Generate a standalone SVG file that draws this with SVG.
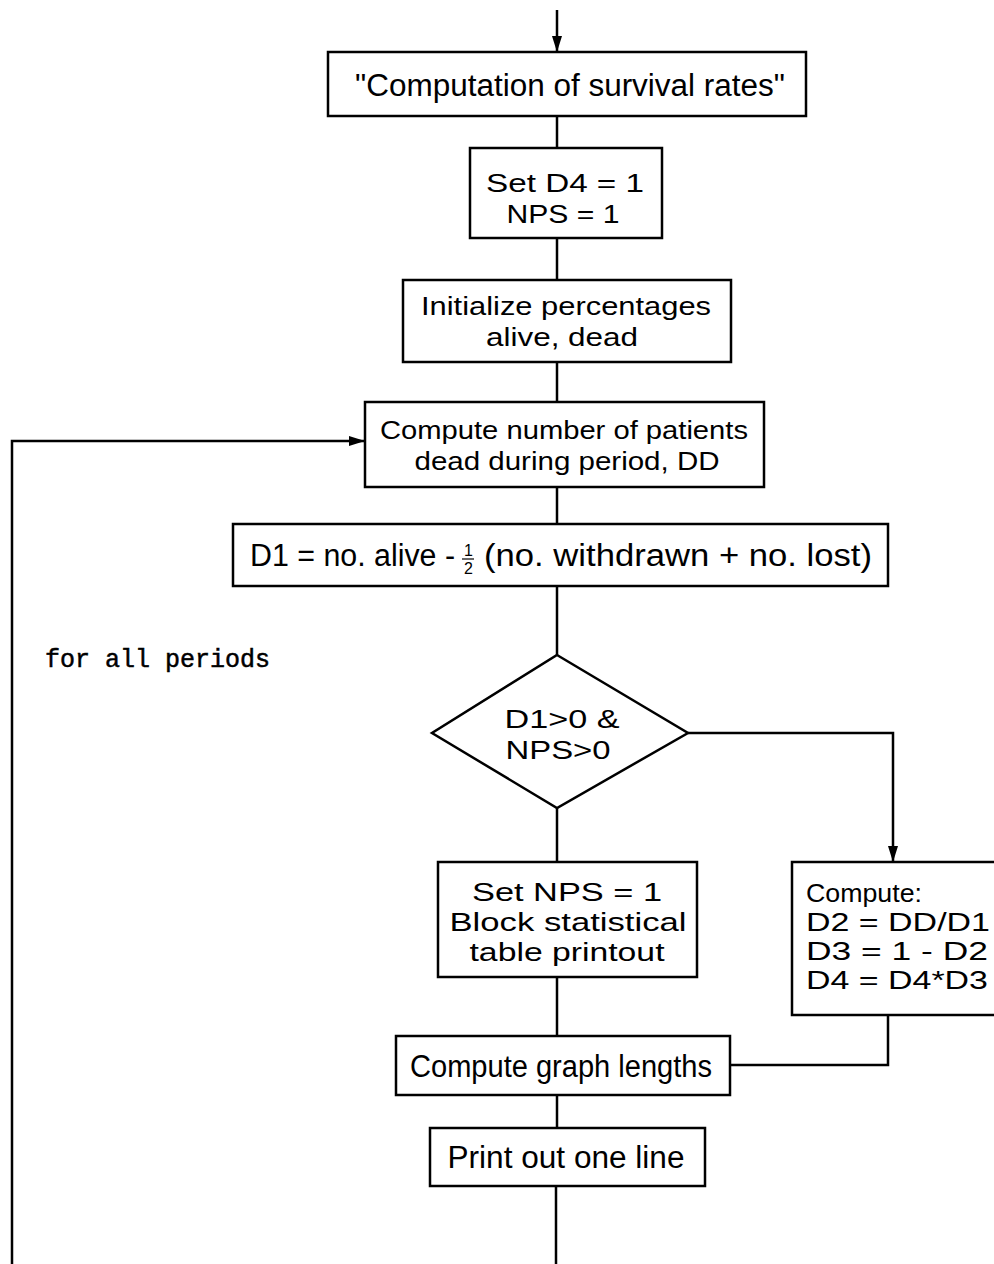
<svg xmlns="http://www.w3.org/2000/svg" width="994" height="1264" viewBox="0 0 994 1264">
<style>
.box{fill:#fff;stroke:#000;stroke-width:2.5}
.ln{fill:none;stroke:#000;stroke-width:2.5}
.t{font-family:"Liberation Sans",Arial,sans-serif;font-size:31px;fill:#000;text-anchor:middle}
.tl{font-family:"Liberation Sans",Arial,sans-serif;font-size:31px;fill:#000}
.k{font-size:26px}
.m{font-family:"Liberation Mono","Courier New",monospace;font-size:25px;fill:#000;stroke:#000;stroke-width:0.5}
.sm{font-size:16px}
</style>
<defs>
<marker id="ah" viewBox="0 0 16 10" refX="16" refY="5" markerWidth="16" markerHeight="10" markerUnits="userSpaceOnUse" orient="auto">
<path d="M0,0 L16,5 L0,10 Z" fill="#000"/>
</marker>
</defs>
<rect width="994" height="1264" fill="#fff"/>
<g id="connectors">
<line class="ln" x1="557" y1="10" x2="557" y2="52" marker-end="url(#ah)"/>
<line class="ln" x1="557" y1="116" x2="557" y2="148"/>
<line class="ln" x1="557" y1="238" x2="557" y2="280"/>
<line class="ln" x1="557" y1="362" x2="557" y2="402"/>
<line class="ln" x1="557" y1="487" x2="557" y2="524"/>
<line class="ln" x1="557" y1="586" x2="557" y2="655"/>
<line class="ln" x1="557" y1="808" x2="557" y2="862"/>
<line class="ln" x1="557" y1="977" x2="557" y2="1036"/>
<line class="ln" x1="557" y1="1095" x2="557" y2="1128"/>
<line class="ln" x1="556" y1="1186" x2="556" y2="1264"/>
<polyline class="ln" points="688,733 893,733 893,862" marker-end="url(#ah)"/>
<polyline class="ln" points="888,1015 888,1065 730,1065"/>
<polyline class="ln" points="12,1264 12,441 365,441" marker-end="url(#ah)"/>
</g>
<g id="n_title">
<rect class="box" x="328" y="52" width="478" height="64"/>
<text class="t" x="570" y="96" textLength="430" lengthAdjust="spacingAndGlyphs">"Computation of survival rates"</text>
</g>
<g id="n_setd4">
<rect class="box" x="470" y="148" width="192" height="90"/>
<text class="t k" x="565" y="192" textLength="158" lengthAdjust="spacingAndGlyphs">Set D4 = 1</text>
<text class="t k" x="563" y="223" textLength="113" lengthAdjust="spacingAndGlyphs">NPS = 1</text>
</g>
<g id="n_init">
<rect class="box" x="403" y="280" width="328" height="82"/>
<text class="t k" x="566" y="315" textLength="290" lengthAdjust="spacingAndGlyphs">Initialize percentages</text>
<text class="t k" x="562" y="346" textLength="152" lengthAdjust="spacingAndGlyphs">alive, dead</text>
</g>
<g id="n_dd">
<rect class="box" x="365" y="402" width="399" height="85"/>
<text class="t k" x="564" y="439" textLength="368" lengthAdjust="spacingAndGlyphs">Compute number of patients</text>
<text class="t k" x="567" y="470" textLength="305" lengthAdjust="spacingAndGlyphs">dead during period, DD</text>
</g>
<g id="n_d1">
<rect class="box" x="233" y="524" width="655" height="62"/>
<text class="tl"><tspan x="250" y="566" textLength="205" lengthAdjust="spacingAndGlyphs">D1 = no. alive -</tspan><tspan class="sm" x="464" y="556">1</tspan><tspan class="sm" x="464" y="574">2</tspan><tspan x="484" y="566" textLength="388" lengthAdjust="spacingAndGlyphs">(no. withdrawn + no. lost)</tspan></text>
<line x1="462" y1="559" x2="474" y2="559" stroke="#000" stroke-width="1.2"/>
</g>
<g id="n_decision">
<polygon class="box" points="557,655 688,733 557,808 432,733"/>
<text class="t k" x="562" y="728" textLength="115" lengthAdjust="spacingAndGlyphs">D1&gt;0 &amp;</text>
<text class="t k" x="558" y="759" textLength="105" lengthAdjust="spacingAndGlyphs">NPS&gt;0</text>
</g>
<g id="n_setnps">
<rect class="box" x="438" y="862" width="259" height="115"/>
<text class="t k" x="567" y="901" textLength="190" lengthAdjust="spacingAndGlyphs">Set NPS = 1</text>
<text class="t k" x="568" y="931" textLength="237" lengthAdjust="spacingAndGlyphs">Block statistical</text>
<text class="t k" x="567" y="961" textLength="195" lengthAdjust="spacingAndGlyphs">table printout</text>
</g>
<g id="n_compute">
<rect class="box" x="792" y="862" width="206" height="153"/>
<text class="tl k" x="806" y="902" textLength="116" lengthAdjust="spacingAndGlyphs">Compute:</text>
<text class="tl k" x="806" y="931" textLength="184" lengthAdjust="spacingAndGlyphs">D2 = DD/D1</text>
<text class="tl k" x="806" y="960" textLength="182" lengthAdjust="spacingAndGlyphs">D3 = 1 - D2</text>
<text class="tl k" x="806" y="989" textLength="182" lengthAdjust="spacingAndGlyphs">D4 = D4*D3</text>
</g>
<g id="n_graph">
<rect class="box" x="396" y="1036" width="334" height="59"/>
<text class="t" x="561" y="1077" textLength="302" lengthAdjust="spacingAndGlyphs">Compute graph lengths</text>
</g>
<g id="n_print">
<rect class="box" x="430" y="1128" width="275" height="58"/>
<text class="t" x="566" y="1168" textLength="237" lengthAdjust="spacingAndGlyphs">Print out one line</text>
</g>
<g id="label_loop">
<text class="m" x="45" y="667">for all periods</text>
</g>
</svg>
